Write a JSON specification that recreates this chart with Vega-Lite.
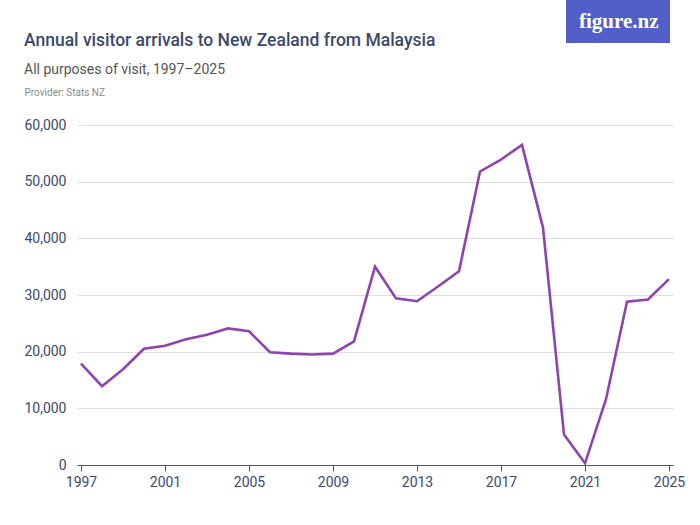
{
  "$schema": "https://vega.github.io/schema/vega-lite/v6.json",
  "width": 596,
  "height": 340,
  "autosize": "none",
  "padding": {"left": 77, "top": 125, "right": 27, "bottom": 60},
  "background": "#ffffff",
  "title": {
    "text": "Annual visitor arrivals to New Zealand from Malaysia",
    "subtitle": "All purposes of visit, 1997–2025",
    "anchor": "start",
    "frame": "group",
    "dx": -53,
    "dy": 85,
    "offset": 8,
    "font": "Roboto, sans-serif",
    "fontSize": 17.5,
    "fontWeight": 500,
    "color": "#3b4a6b",
    "subtitleFont": "Roboto, sans-serif",
    "subtitleFontSize": 14,
    "subtitleColor": "#555555",
    "subtitlePadding": 14
  },
  "data": {
    "values": [
      {"year": 1997, "visitors": 17900},
      {"year": 1998, "visitors": 13900},
      {"year": 1999, "visitors": 16900},
      {"year": 2000, "visitors": 20500},
      {"year": 2001, "visitors": 21050},
      {"year": 2002, "visitors": 22200},
      {"year": 2003, "visitors": 23000},
      {"year": 2004, "visitors": 24100},
      {"year": 2005, "visitors": 23600},
      {"year": 2006, "visitors": 19900},
      {"year": 2007, "visitors": 19650},
      {"year": 2008, "visitors": 19500},
      {"year": 2009, "visitors": 19650},
      {"year": 2010, "visitors": 21800},
      {"year": 2011, "visitors": 35000},
      {"year": 2012, "visitors": 29400},
      {"year": 2013, "visitors": 28900},
      {"year": 2014, "visitors": 31500},
      {"year": 2015, "visitors": 34200},
      {"year": 2016, "visitors": 51800},
      {"year": 2017, "visitors": 53900},
      {"year": 2018, "visitors": 56500},
      {"year": 2019, "visitors": 41900},
      {"year": 2020, "visitors": 5400},
      {"year": 2021, "visitors": 300},
      {"year": 2022, "visitors": 11600},
      {"year": 2023, "visitors": 28800},
      {"year": 2024, "visitors": 29200},
      {"year": 2025, "visitors": 32800}
    ]
  },
  "mark": {"type": "line", "strokeWidth": 2.6, "strokeJoin": "miter"},
  "encoding": {
    "x": {
      "field": "year",
      "type": "quantitative",
      "scale": {"domain": [1997, 2025], "padding": 4, "nice": false, "zero": false},
      "axis": {
        "values": [1997, 2001, 2005, 2009, 2013, 2017, 2021, 2025],
        "format": "d",
        "title": null,
        "grid": false,
        "domainColor": "#555555",
        "tickColor": "#555555",
        "tickSize": 6,
        "labelPadding": 4,
        "labelFontSize": 14
      }
    },
    "y": {
      "field": "visitors",
      "type": "quantitative",
      "scale": {"domain": [0, 60000], "nice": false},
      "axis": {
        "values": [0, 10000, 20000, 30000, 40000, 50000, 60000],
        "format": ",d",
        "domain": false,
        "ticks": false,
        "labelPadding": 11,
        "labelFontSize": 14,
        "gridColor": "#dedede",
        "title": "Provider: Stats NZ",
        "titleAngle": 0,
        "titleAlign": "left",
        "titleBaseline": "alphabetic",
        "titleX": -53,
        "titleY": -30,
        "titleFont": "Roboto, sans-serif",
        "titleFontSize": 10,
        "titleFontWeight": "normal",
        "titleColor": "#8a8a8a"
      }
    },
    "color": {
      "datum": "figure.nz",
      "type": "nominal",
      "scale": {"range": ["#8e44ad"]},
      "legend": {
        "orient": "none",
        "legendX": 489,
        "legendY": -125,
        "title": null,
        "fillColor": "#535fc8",
        "padding": 11,
        "symbolType": "circle",
        "symbolSize": 0,
        "symbolOpacity": 0,
        "symbolStrokeWidth": 0,
        "labelOffset": -19,
        "labelFont": "Liberation Serif, DejaVu Serif, serif",
        "labelFontSize": 21,
        "labelFontWeight": "bold",
        "labelColor": "#ffffff"
      }
    }
  },
  "config": {
    "view": {"stroke": null},
    "axis": {
      "labelFont": "Roboto, sans-serif",
      "labelColor": "#3b4a6b"
    }
  }
}
